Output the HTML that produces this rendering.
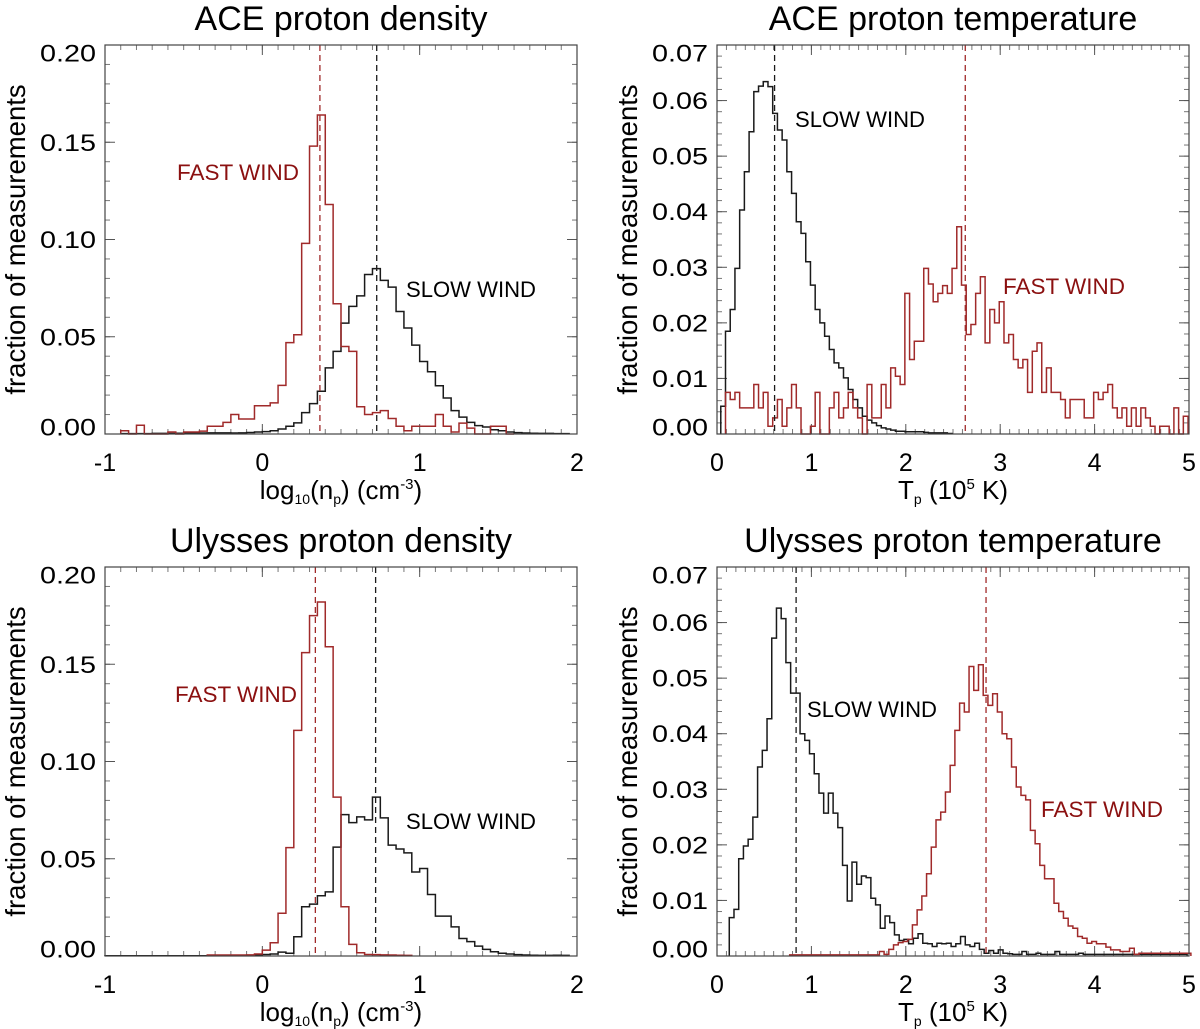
<!DOCTYPE html>
<html><head><meta charset="utf-8"><style>
html,body{margin:0;padding:0;background:#fff;}
svg{display:block;font-family:"Liberation Sans",Arial,sans-serif;}
</style></head><body>
<svg id="chart" width="1200" height="1029" viewBox="0 0 1200 1029" xmlns="http://www.w3.org/2000/svg"></svg>
<script>
// ===== data =====
const binWidth = 0.05;
const aceDensFastStart = -0.9;
const aceDensFast = [.0017,0,.0045,0,0,0,.001,0,.001,.001,.0015,.004,.004,.006,.010,.0077,.0077,.0145,.0145,.016,.025,.047,.051,.098,.148,.164,.118,.067,.045,.0425,.014,.010,.011,.012,.008,.004,.0017,.004,.004,.004,.010,.004,.001,.0056,.003,0,0,.004,.004,0];
const aceDensSlowStart = -0.9;
const aceDensSlow = [.0002,.0002,.0002,.0002,.0003,.0003,.0003,.0004,.0004,.0005,.0005,.0006,.0006,.0006,.0005,.0006,.0008,.001,.0012,.0017,.0026,.004,.0057,.011,.0156,.022,.034,.0425,.057,.0656,.071,.082,.085,.079,.0755,.063,.0545,.0457,.0373,.032,.0248,.0185,.012,.0087,.006,.0043,.0036,.0022,.0017,.001,.0007,.0005,.0004,.0003,.0003,.0002,.0002];
const aceDensFastMean = 0.366;
const aceDensSlowMean = 0.727;

const ulyDensFastStart = -0.35;
const ulyDensFast = [.0005,.0005,.0005,.0005,.0005,.0006,.001,.003,.0068,.022,.0557,.116,.156,.175,.182,.159,.0817,.0253,.006,.0017,.0008,.0007,.0006,.0005,.0004,.0003];
const ulyDensSlowStart = -1.0;
const ulyDensSlow = [.0001,.0001,.0001,.0001,.0001,.0001,.0001,.0001,.0001,.0001,.0001,.0001,.0001,.0001,.0001,.0001,.0001,.0001,.0003,.0005,.0008,.001,.002,.0014,.0099,.0253,.0267,.031,.033,.056,.0727,.0686,.0715,.070,.0817,.071,.057,.055,.053,.0432,.045,.0316,.0205,.0205,.015,.009,.0074,.0051,.0034,.0022,.0014,.001,.0007,.0005,.0004,.0003,.0003,.0004,.0003];
const ulyDensFastMean = 0.337;
const ulyDensSlowMean = 0.72;

const aceTempSlowStart = 0.04;
const aceTempSlow = [.005,.0185,.0224,.0298,.0403,.0472,.0544,.0616,.0626,.0634,.0625,.0577,.0547,.0529,.0472,.0433,.0382,.0361,.031,.0268,.0224,.020,.0176,.0152,.0128,.0119,.0101,.008,.0062,.0047,.0032,.0025,.002,.0015,.0011,.0009,.0007,.0005,.0005,.0004,.0004,.0004,.0004,.0003,.0002,.0002,.0002,.0002,.0001];
const aceTempFastStart = 0.09;
const aceTempFast = [.0075,.0062,.0075,.0047,.0047,.0047,.0089,.0047,.0075,.0014,.0029,.0062,.0014,.0047,.0089,.0047,0,0,.0014,.0075,0,0,.0047,.0075,.0029,.0047,.0075,.0047,.0029,0,.0089,.0029,.0029,.0089,.0047,.0119,.0104,.0089,.0253,.0134,.0167,.0167,.0298,.027,.0238,.0253,.0267,.0253,.0298,.0373,.0268,.0179,.0197,.0253,.0283,.0164,.0224,.02,.0238,.0164,.0179,.0134,.0119,.0134,.0075,.0149,.0164,.0075,.0119,.0075,.0075,.0062,.0029,.0062,.0062,.0062,.0029,.0029,.0075,.0062,.0075,.0089,.0047,.0029,.0047,.0014,.0047,.0014,.0047,.0029,.0014,0,.0014,.0014,0,.0047,0,.0032];
const aceTempSlowMean = 0.61;
const aceTempFastMean = 2.63;

const ulyTempSlowStart = 0.13;
const ulyTempSlow = [.0069,.0084,.0175,.0198,.021,.025,.034,.037,.0427,.0572,.0626,.0607,.0528,.0473,.0473,.040,.0388,.0364,.0328,.0293,.0257,.0293,.0257,.0231,.0163,.0099,.0169,.0129,.0144,.0141,.0104,.0092,.005,.0072,.006,.0038,.0028,.003,.0022,.0032,.004,.0023,.0022,.0017,.0023,.0022,.0023,.0017,.0022,.0035,.002,.0017,.0023,.0012,.0005,.001,.0005,.0011,.0005,.0004,.0003,.0003,.0008,.0003,.0003,.0005,.0003,.0003,.0003,.0008,.0003,.0003,.0003,.0003,.0005,.0003,.0003,.0003,.0003,.0003,.0003,.0003,.0003,.0003,.0003,.0003,.0003,.0003,.0003,.0003,.0003,.0003,.0003,.0003,.0003,.0003,.0003];
const ulyTempFastStart = 0.77;
const ulyTempFast = [.0002,.0002,.0002,.0002,.0002,.0002,.0002,.0002,.0002,.0002,.0002,.0002,.0002,.0002,.0002,.0002,.0002,.0002,.0002,.0008,.0003,.0012,.002,.0024,.0026,.003,.0056,.0083,.0108,.0148,.0196,.0245,.0259,.0295,.0343,.0406,.0455,.0439,.0521,.0478,.0524,.0469,.0451,.0472,.0439,.040,.0391,.034,.0304,.0289,.0281,.0226,.0202,.0163,.0139,.0139,.0095,.008,.0068,.0054,.005,.0035,.0032,.0023,.0026,.0022,.0022,.0016,.0011,.0011,.0008,.0008,.0014,.0003,.0005,.0005,.0005,.0005,.0005,.0005,.0005,.0005,.0005,.0005,.0005];
const ulyTempSlowMean = 0.838;
const ulyTempFastMean = 2.85;

const densXTicks = [-1,0,1,2];
const densYTicks = [0,0.05,0.10,0.15,0.20];
const densYTickLabels = ["0.00","0.05","0.10","0.15","0.20"];
const tempXTicks = [0,1,2,3,4,5];
const tempYTicks = [0,0.01,0.02,0.03,0.04,0.05,0.06,0.07];
const tempYTickLabels = ["0.00","0.01","0.02","0.03","0.04","0.05","0.06","0.07"];

// ===== drawing =====
const NS = "http://www.w3.org/2000/svg";
const svg = document.getElementById('chart');
const RED = "#a02a2a", TRED = "#8b1010", BLK = "#1a1a1a";
function mk(tag, attrs, parent){
  const e = document.createElementNS(NS, tag);
  for (const k in attrs) e.setAttribute(k, attrs[k]);
  (parent||svg).appendChild(e);
  return e;
}
const panels = [
  {id:'ace-density', title:'ACE proton density', x0:105,x1:577,y0:45,y1:434, xmin:-1,xmax:2,ymax:0.2, kind:'dens',
   xt:densXTicks, yt:densYTicks, ytl:densYTickLabels, xminor:0.1, yminor:0.01,
   fast:[aceDensFastStart,aceDensFast,aceDensFastMean], slow:[aceDensSlowStart,aceDensSlow,aceDensSlowMean],
   fastLbl:[177,180], slowLbl:[406,297]},
  {id:'ace-temperature', title:'ACE proton temperature', x0:717,x1:1189,y0:45,y1:434, xmin:0,xmax:5,ymax:0.07, kind:'temp',
   xt:tempXTicks, yt:tempYTicks, ytl:tempYTickLabels, xminor:0.1, yminor:0.002,
   fast:[aceTempFastStart,aceTempFast,aceTempFastMean], slow:[aceTempSlowStart,aceTempSlow,aceTempSlowMean],
   fastLbl:[1003,294], slowLbl:[795,127]},
  {id:'ulysses-density', title:'Ulysses proton density', x0:105,x1:577,y0:567,y1:956, xmin:-1,xmax:2,ymax:0.2, kind:'dens',
   xt:densXTicks, yt:densYTicks, ytl:densYTickLabels, xminor:0.1, yminor:0.01,
   fast:[ulyDensFastStart,ulyDensFast,ulyDensFastMean], slow:[ulyDensSlowStart,ulyDensSlow,ulyDensSlowMean],
   fastLbl:[175,702], slowLbl:[406,829]},
  {id:'ulysses-temperature', title:'Ulysses proton temperature', x0:717,x1:1189,y0:567,y1:956, xmin:0,xmax:5,ymax:0.07, kind:'temp',
   xt:tempXTicks, yt:tempYTicks, ytl:tempYTickLabels, xminor:0.1, yminor:0.002,
   fast:[ulyTempFastStart,ulyTempFast,ulyTempFastMean], slow:[ulyTempSlowStart,ulyTempSlow,ulyTempSlowMean],
   fastLbl:[1041,817], slowLbl:[807,717]}
];

panels.forEach(p => {
  const g = mk('g', {});
  
  
  const sx = v => p.x0 + (v - p.xmin) / (p.xmax - p.xmin) * (p.x1 - p.x0);
  const sy = v => p.y1 - v / p.ymax * (p.y1 - p.y0);
  const cx = (p.x0 + p.x1) / 2, cy = (p.y0 + p.y1) / 2;

  const t = mk('text', {x:cx, y:p.y0-15, 'text-anchor':'middle','font-size':34, fill:'#000'}, g);
  t.textContent = p.title;
  
  

  const nxm = Math.round((p.xmax - p.xmin) / p.xminor);
  for (let i = 1; i < nxm; i++) {
    const x = sx(p.xmin + i * p.xminor);
    mk('line', {x1:x, x2:x, y1:p.y1, y2:p.y1-5, stroke:'#777','stroke-width':1}, g);
    mk('line', {x1:x, x2:x, y1:p.y0, y2:p.y0+5, stroke:'#777','stroke-width':1}, g);
  }
  const nym = Math.round(p.ymax / p.yminor);
  for (let i = 1; i < nym; i++) {
    const y = sy(i * p.yminor);
    mk('line', {x1:p.x0, x2:p.x0+5, y1:y, y2:y, stroke:'#777','stroke-width':1}, g);
    mk('line', {x1:p.x1, x2:p.x1-5, y1:y, y2:y, stroke:'#777','stroke-width':1}, g);
  }
  p.xt.forEach(v => {
    const x = sx(v);
    mk('line', {x1:x, x2:x, y1:p.y1, y2:p.y1-10, stroke:'#555','stroke-width':1}, g);
    mk('line', {x1:x, x2:x, y1:p.y0, y2:p.y0+10, stroke:'#555','stroke-width':1}, g);
    const l = mk('text', {x:x, y:p.y1+37, 'text-anchor':'middle','font-size':25, fill:'#000'}, g);
    l.textContent = String(v);
    
    
  });
  p.yt.forEach((v, i) => {
    const y = sy(v);
    mk('line', {x1:p.x0, x2:p.x0+10, y1:y, y2:y, stroke:'#555','stroke-width':1}, g);
    mk('line', {x1:p.x1, x2:p.x1-10, y1:y, y2:y, stroke:'#555','stroke-width':1}, g);
    const c = Math.min(Math.max(y, p.y0 + 8), p.y1 - 7);
    const l = mk('text', {x:p.x0-9, y:c+8.5, 'text-anchor':'end','font-size':24, fill:'#000', textLength:56, lengthAdjust:'spacingAndGlyphs'}, g);
    l.textContent = p.ytl[i];
    
    
  });

  function hist(spec, color, name) {
    const [start, vals] = spec;
    let d = 'M' + sx(start).toFixed(2) + ',' + sy(0).toFixed(2);
    vals.forEach((v, i) => {
      const xa = sx(start + i * binWidth), xb = sx(start + (i + 1) * binWidth);
      d += ' L' + xa.toFixed(2) + ',' + sy(v).toFixed(2) + ' L' + xb.toFixed(2) + ',' + sy(v).toFixed(2);
    });
    d += ' L' + sx(start + vals.length * binWidth).toFixed(2) + ',' + sy(0).toFixed(2);
    const path = mk('path', {d:d, fill:'none', stroke:color, 'stroke-width':1.5, 'stroke-linejoin':'miter'}, g);
    
    
  }
  hist(p.slow, BLK, p.id + '-slow-wind-histogram');
  hist(p.fast, RED, p.id + '-fast-wind-histogram');

  const ms = mk('line', {x1:sx(p.slow[2]), x2:sx(p.slow[2]), y1:p.y0, y2:p.y1, stroke:BLK, 'stroke-width':1.3, 'stroke-dasharray':'6,4'}, g);
  
  
  const mf = mk('line', {x1:sx(p.fast[2]), x2:sx(p.fast[2]), y1:p.y0, y2:p.y1, stroke:RED, 'stroke-width':1.3, 'stroke-dasharray':'6,4'}, g);
  
  

  const box = mk('rect', {x:p.x0, y:p.y0, width:p.x1-p.x0, height:p.y1-p.y0, fill:'none', stroke:'#444', 'stroke-width':1.2}, g);
  
  

  const fl = mk('text', {x:p.fastLbl[0], y:p.fastLbl[1], 'font-size':22, fill:TRED, textLength:122, lengthAdjust:'spacingAndGlyphs'}, g);
  fl.textContent = 'FAST WIND';
  
  
  const sl = mk('text', {x:p.slowLbl[0], y:p.slowLbl[1], 'font-size':22, fill:'#000', textLength:130, lengthAdjust:'spacingAndGlyphs'}, g);
  sl.textContent = 'SLOW WIND';
  
  

  const yx = p.x0 - 80;
  const yt = mk('text', {x:yx, y:cy, 'text-anchor':'middle','font-size':27.5, fill:'#000', transform:'rotate(-90 ' + yx + ' ' + cy + ')'}, g);
  yt.textContent = 'fraction of measurements';
  
  

  const xt = mk('text', {x:cx, y:p.y1+65, 'text-anchor':'middle','font-size':26, fill:'#000'}, g);
  if (p.kind === 'dens') {
    xt.innerHTML = 'log<tspan font-size="14" dy="5">10</tspan><tspan dy="-5">(n</tspan><tspan font-size="14" dy="5">p</tspan><tspan dy="-5">) (cm</tspan><tspan font-size="15" dy="-10">-3</tspan><tspan dy="10">)</tspan>';
  } else {
    xt.innerHTML = 'T<tspan font-size="14" dy="5">p</tspan><tspan dy="-5"> (10</tspan><tspan font-size="15" dy="-10">5</tspan><tspan dy="10"> K)</tspan>';
  }
  
  
});
</script>
</body></html>
